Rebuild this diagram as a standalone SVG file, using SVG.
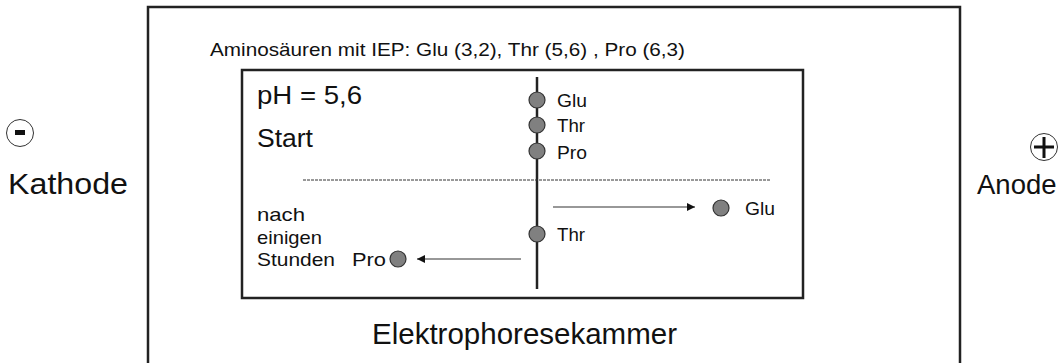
<svg xmlns="http://www.w3.org/2000/svg" width="1060" height="363" viewBox="0 0 1060 363">
<defs>
<style>
text{font-family:"Liberation Sans",Arial,sans-serif;fill:#111}
.big{font-size:30px}
.mid{font-size:26px}
.sm{font-size:18.5px}
.dot{fill:#808080;stroke:#333;stroke-width:1.2}
.box{fill:none;stroke:#222;stroke-width:2.5}
</style>
<marker id="ah" viewBox="0 0 10 10" refX="10" refY="5" markerWidth="11" markerHeight="8" markerUnits="userSpaceOnUse" orient="auto"><path d="M0,0 L10,5 L0,10 z" fill="#111"/></marker>
</defs>
<rect width="1060" height="363" fill="#fff"/>
<g id="chamber">
<path class="box" d="M148,380 V7 H960 V380"/>
<text class="big" x="372" y="344" textLength="305" lengthAdjust="spacingAndGlyphs">Elektrophoresekammer</text>
<text class="sm" x="210" y="56" textLength="475" lengthAdjust="spacingAndGlyphs">Aminosäuren mit IEP: Glu (3,2), Thr (5,6) , Pro (6,3)</text>
</g>
<g id="kathode">
<circle cx="20" cy="133" r="13.5" fill="none" stroke="#333" stroke-width="1"/>
<rect x="15" y="130" width="10" height="5" fill="#111"/>
<text class="big" x="8" y="194" textLength="120" lengthAdjust="spacingAndGlyphs">Kathode</text>
</g>
<g id="anode">
<circle cx="1044" cy="147" r="13.5" fill="none" stroke="#333" stroke-width="1"/>
<path d="M1034,147 H1054 M1044,137 V158" stroke="#111" stroke-width="3"/>
<text x="977" y="194" style="font-size:27.5px">Anode</text>
</g>
<g id="gel">
<rect class="box" x="242" y="70" width="561" height="228"/>
<text class="mid" x="257" y="104" textLength="105" lengthAdjust="spacingAndGlyphs">pH = 5,6</text>
<text class="mid" x="257" y="147" textLength="56" lengthAdjust="spacingAndGlyphs">Start</text>
<text class="sm" x="257" y="221" textLength="48" lengthAdjust="spacingAndGlyphs">nach</text>
<text class="sm" x="257" y="244" textLength="65" lengthAdjust="spacingAndGlyphs">einigen</text>
<text class="sm" x="257" y="266" textLength="78" lengthAdjust="spacingAndGlyphs">Stunden</text>
</g>
<g id="connectors">
<line x1="537" y1="77" x2="537" y2="289" stroke="#222" stroke-width="2.5"/>
<line x1="303" y1="180" x2="770" y2="180" stroke="#333" stroke-width="1" stroke-dasharray="3,1"/>
<line x1="553" y1="207" x2="695" y2="207" stroke="#333" stroke-width="1.2" marker-end="url(#ah)"/>
<line x1="521" y1="259" x2="417" y2="259" stroke="#333" stroke-width="1.2" marker-end="url(#ah)"/>
</g>
<g id="start-glu"><circle class="dot" cx="537" cy="100" r="8"/><text class="sm" x="557" y="107" textLength="30" lengthAdjust="spacingAndGlyphs">Glu</text></g>
<g id="start-thr"><circle class="dot" cx="537" cy="125" r="8"/><text class="sm" x="557" y="132" textLength="28" lengthAdjust="spacingAndGlyphs">Thr</text></g>
<g id="start-pro"><circle class="dot" cx="537" cy="151" r="8"/><text class="sm" x="557" y="159" textLength="30" lengthAdjust="spacingAndGlyphs">Pro</text></g>
<g id="end-thr"><circle class="dot" cx="537" cy="234" r="8"/><text class="sm" x="557" y="241" textLength="28" lengthAdjust="spacingAndGlyphs">Thr</text></g>
<g id="end-glu"><circle class="dot" cx="721" cy="208" r="8"/><text class="sm" x="745" y="215" textLength="30" lengthAdjust="spacingAndGlyphs">Glu</text></g>
<g id="end-pro"><circle class="dot" cx="398" cy="259" r="8"/><text class="sm" x="352" y="266" textLength="34" lengthAdjust="spacingAndGlyphs">Pro</text></g>
</svg>
